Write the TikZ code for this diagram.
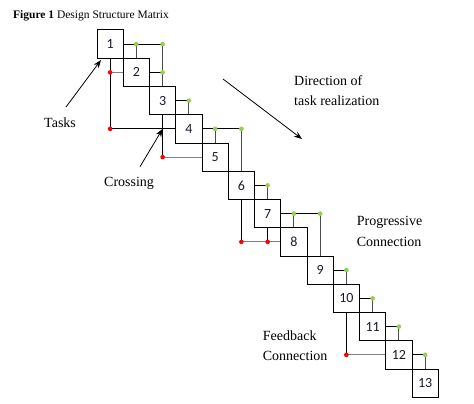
\documentclass[tikz,border=0pt]{standalone}
\usepackage{fontspec}
\setmainfont{Liberation Serif}
\newfontfamily\numfont{Carlito}
\usetikzlibrary{arrows.meta}
\definecolor{pgreen}{HTML}{92D050}
\definecolor{fred}{HTML}{FF0000}
\definecolor{numcol}{HTML}{1A1A2E}
\tikzset{
  taskbox/.style={draw=black, line width=1pt, minimum width=26.25pt, minimum height=28.25pt, inner sep=0pt, font=\numfont\fontsize{14}{16}\selectfont, text=numcol},
  hline/.style={draw=black, line width=0.9pt},
  vline/.style={draw=gray!60!black, line width=0.9pt},
  fbline/.style={draw=gray, line width=0.9pt},
  gdot/.style={fill=pgreen},
  rdot/.style={fill=fred},
  lbl/.style={anchor=base west, inner sep=0pt, font=\fontsize{14}{16}\selectfont},
  pointer/.style={draw=black, line width=0.8pt, -{Stealth[length=8pt,width=6pt]}}
}
\begin{document}
\begin{tikzpicture}[x=1pt,y=-1pt]
\useasboundingbox (0,0) rectangle (474,404);
\fill[white] (0,0) rectangle (474,404);
% boxes
\foreach \k in {1,...,13}{
  \node[taskbox] (b\k) at ({97+26.25*(\k-1)+13.125},{30+28.25*(\k-1)+14.125}) {\k};
}
% progressive connections (row i -> column j)
\foreach \i/\j in {1/2,1/3,2/3,3/4,4/5,4/6,6/7,7/8,7/9,9/10,10/11,11/12,12/13}{
  \draw[vline] (b\j |- b\i) -- (b\j.north);
  \draw[hline] (b\i.east) -- (b\j |- b\i);
}
% feedback connections (row i <- column j)
\foreach \i/\j in {2/1,5/3,8/6,8/7,12/10}{
  \draw[fbline] (b\j |- b\i) -- (b\i.west);
}
\draw[hline] (b1 |- b4) -- (b4.west);
\foreach \i/\j in {2/1,4/1,5/3,8/6,8/7,12/10}{
  \draw[hline] (b\j.south) -- (b\j |- b\i);
}
% dots
\foreach \i/\j in {1/2,1/3,2/3,3/4,4/5,4/6,6/7,7/8,7/9,9/10,10/11,11/12,12/13}{
  \fill[gdot] (b\j |- b\i) circle (2.3pt);
}
\foreach \i/\j in {2/1,4/1,5/3,8/6,8/7,12/10}{
  \fill[rdot] (b\j |- b\i) circle (2.3pt);
}
% title
\node[anchor=base west, inner sep=0pt, font=\fontsize{11.5}{13}\selectfont] (title) at (13,18.3) {\textbf{Figure 1} Design Structure Matrix};
% labels
\node[lbl] (tasks) at (44,127) {Tasks};
\node[lbl] (crossing) at (104,186.5) {Crossing};
\node[lbl] (dir1) at (294,85) {Direction of};
\node[lbl] (dir2) at (294,105.7) {task realization};
\node[lbl] (prog1) at (356.7,225.7) {Progressive};
\node[lbl] (prog2) at (356.7,246.7) {Connection};
\node[lbl] (fb1) at (262.7,340) {Feedback};
\node[lbl] (fb2) at (262.7,360.7) {Connection};
% arrows
\coordinate (tasksfrom) at (66,107);
\coordinate (taskstip) at (101,60);
\coordinate (crossfrom) at (140,166.7);
\coordinate (crosstip) at (b3 |- b4);
\coordinate (dirfrom) at (223,79);
\coordinate (dirtip) at (302,139);
\draw[pointer] (tasksfrom) -- (taskstip);
\draw[pointer] (crossfrom) -- (crosstip);
\draw[pointer] (dirfrom) -- (dirtip);
\end{tikzpicture}
\end{document}
